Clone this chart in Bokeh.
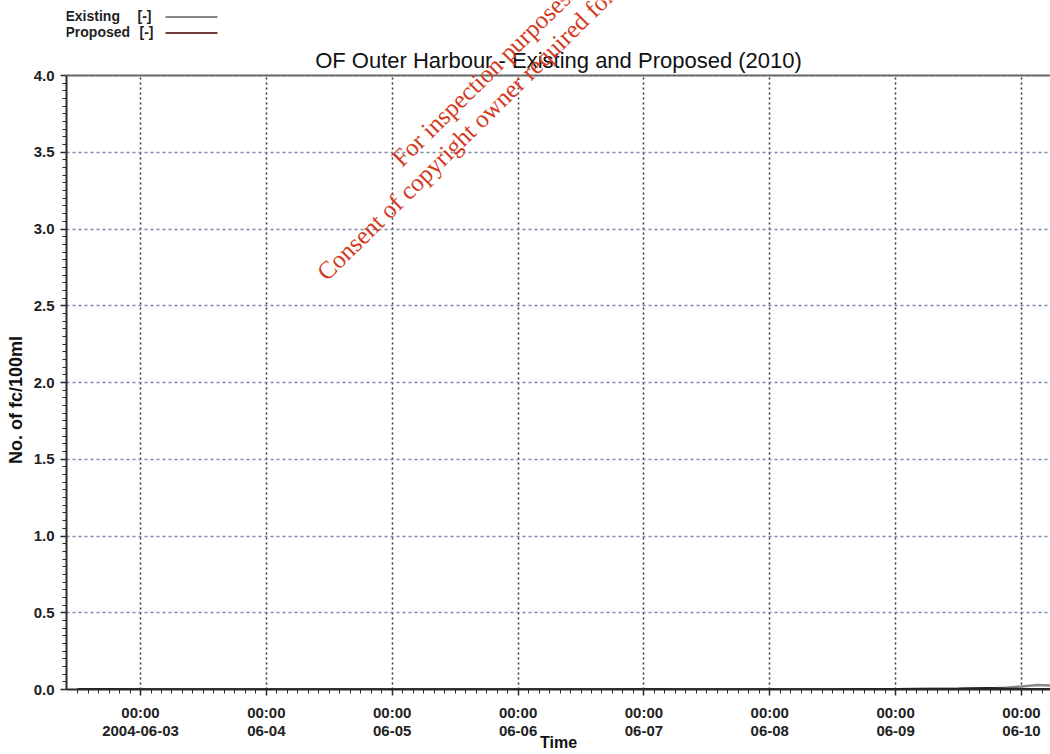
from datetime import datetime
from bokeh.plotting import figure
from bokeh.models import FixedTicker, Label, Arrow, Span, Range1d
from bokeh.embed import file_html
from bokeh.resources import INLINE

# ---------------- data ----------------
day_ticks = ["2004-06-03", "2004-06-04", "2004-06-05", "2004-06-06",
             "2004-06-07", "2004-06-08", "2004-06-09", "2004-06-10"]
day_tick_labels = ["00:00\n2004-06-03", "00:00\n06-04", "00:00\n06-05", "00:00\n06-06",
                   "00:00\n06-07", "00:00\n06-08", "00:00\n06-09", "00:00\n06-10"]
y_ticks = [0.0, 0.5, 1.0, 1.5, 2.0, 2.5, 3.0, 3.5, 4.0]

times = ["2004-06-02 12:00", "2004-06-02 18:00", "2004-06-03 00:00", "2004-06-03 06:00",
         "2004-06-03 12:00", "2004-06-03 18:00", "2004-06-04 00:00", "2004-06-04 06:00",
         "2004-06-04 12:00", "2004-06-04 18:00", "2004-06-05 00:00", "2004-06-05 06:00",
         "2004-06-05 12:00", "2004-06-05 18:00", "2004-06-06 00:00", "2004-06-06 06:00",
         "2004-06-06 12:00", "2004-06-06 18:00", "2004-06-07 00:00", "2004-06-07 06:00",
         "2004-06-07 12:00", "2004-06-07 18:00", "2004-06-08 00:00", "2004-06-08 06:00",
         "2004-06-08 12:00", "2004-06-08 18:00", "2004-06-09 00:00", "2004-06-09 06:00",
         "2004-06-09 12:00", "2004-06-09 18:00", "2004-06-09 21:00", "2004-06-10 00:00",
         "2004-06-10 03:00", "2004-06-10 06:00"]
existing = [0.002, 0.002, 0.001, 0.001, 0.001, 0.001, 0.000, 0.000,
            0.000, 0.000, 0.000, 0.000, 0.000, 0.000, 0.000, 0.000,
            0.001, 0.001, 0.002, 0.002, 0.001, 0.001, 0.001, 0.001,
            0.001, 0.001, 0.002, 0.003, 0.004, 0.006, 0.012, 0.020,
            0.030, 0.026]
proposed = [0.003, 0.003, 0.002, 0.002, 0.002, 0.002, 0.001, 0.001,
            0.001, 0.001, 0.001, 0.001, 0.001, 0.001, 0.001, 0.001,
            0.002, 0.002, 0.003, 0.002, 0.002, 0.002, 0.002, 0.002,
            0.002, 0.003, 0.004, 0.005, 0.006, 0.010, 0.006, 0.004,
            0.003, 0.003]

x_start = "2004-06-02 09:53"
x_end = "2004-06-10 05:32"

title_text = "OF Outer Harbour - Existing and Proposed (2010)"
y_label = "No. of fc/100ml"
x_label = "Time"
legend_names = ["Existing", "Proposed"]
legend_units = ["[-]", "[-]"]
legend_colors = ["#878a84", "#723a3a"]
watermark_1 = "For inspection purposes only."
watermark_2 = "Consent of copyright owner required for any other use."

# ---------------- helpers ----------------
def ms(s):
    fmt = "%Y-%m-%d %H:%M" if " " in s else "%Y-%m-%d"
    return (datetime.strptime(s, fmt) - datetime(1970, 1, 1)).total_seconds() * 1000.0

tick_ms = [ms(d) for d in day_ticks]
two_h = 2 * 3600 * 1000.0
minor = []
t = tick_ms[0] - 6 * two_h
while t < ms(x_end):
    minor.append(t)
    t += two_h

xs = [ms(s) for s in times]

FONT = "Liberation Sans"
W, H = 1050, 754
FRAME_LEFT, FRAME_BOTTOM, TOP_Y = 66, 689, 75      # page pixels
ppu = (FRAME_BOTTOM - TOP_Y) / 4.0
y_top = 4.0 + TOP_Y / ppu                          # room above 4.0 for header texts

p = figure(width=W, height=H, output_backend="svg", toolbar_location=None,
           x_range=Range1d(ms(x_start), ms(x_end)), y_range=Range1d(0, y_top),
           min_border_left=FRAME_LEFT, min_border_right=0, min_border_top=0,
           min_border_bottom=H - FRAME_BOTTOM)
p.outline_line_color = None
p.background_fill_color = "white"
p.border_fill_color = "white"

# axes
p.xaxis.ticker = FixedTicker(ticks=tick_ms, minor_ticks=minor)
p.xaxis.major_label_overrides = {tm: lab for tm, lab in zip(tick_ms, day_tick_labels)}
p.yaxis.ticker = FixedTicker(ticks=y_ticks, minor_ticks=[i * 0.05 for i in range(81)])
p.yaxis.major_label_overrides = {v: f"{v:.1f}" for v in y_ticks}
p.yaxis.bounds = (0, 4)

for ax in (p.xaxis[0], p.yaxis[0]):
    ax.major_label_text_font = FONT
    ax.major_label_text_font_style = "bold"
    ax.major_label_text_font_size = "15px"
    ax.major_label_text_color = "#222222"
    ax.axis_label_text_font = FONT
    ax.axis_label_text_font_style = "bold"
    ax.axis_label_text_font_size = "16px"
    ax.axis_label_text_color = "#111111"
    ax.axis_line_color = "#2a2a2a"
    ax.axis_line_width = 2
    ax.major_tick_line_color = "#2a2a2a"
    ax.minor_tick_line_color = "#2a2a2a"
    ax.major_tick_line_width = 1.5
    ax.major_tick_out = 6
    ax.major_tick_in = 0
    ax.minor_tick_out = 4
    ax.minor_tick_in = 0

p.xaxis.axis_label = x_label
p.xaxis.major_label_standoff = 8
p.xaxis.axis_label_standoff = -8
p.xaxis.major_label_text_line_height = 1.1
# the frame reaches the top of the canvas, so the label is padded with
# non-breaking spaces to sit centred on the 0-4 part of the axis, as in the original
p.yaxis.axis_label = y_label + "\u00a0" * 22
p.yaxis.axis_label_text_font_size = "18px"
p.yaxis.major_label_standoff = 6
p.yaxis.axis_label_standoff = 5

# grids
p.xgrid.grid_line_color = "#333333"
p.xgrid.grid_line_dash = "2 3"
p.xgrid.grid_line_width = 1.5
try:
    p.xgrid.cross_bounds = (0, 4)
except Exception:
    pass
p.ygrid.grid_line_color = "#7d8aa8"
p.ygrid.grid_line_dash = "3 3"
p.ygrid.grid_line_width = 1.3

# top border of the plotting area
p.add_layout(Span(location=4.0, dimension="width", line_color="#6a6a6a", line_width=2))

# series
p.line(xs, existing, line_color=legend_colors[0], line_width=2.5)
p.line(xs, proposed, line_color="#2a1a1a", line_width=2)

def sx(px):
    return px - FRAME_LEFT

def sy(py):
    return FRAME_BOTTOM - py

# title
p.add_layout(Label(x=sx(558), y=sy(60), x_units="screen", y_units="screen", text=title_text,
                   text_align="center", text_baseline="middle", text_font=FONT,
                   text_font_size="22px", text_color="#111111"))

# legend (top left: name, unit, then line sample)
unit_x = [137, 139]
for i, (name, unit, col) in enumerate(zip(legend_names, legend_units, legend_colors)):
    yy = sy(15 + 16 * i)
    p.add_layout(Label(x=sx(65), y=yy, x_units="screen", y_units="screen", text=name,
                       text_font=FONT, text_font_style="bold", text_font_size="14px",
                       text_baseline="middle", text_color="#222222"))
    p.add_layout(Label(x=sx(unit_x[i]), y=yy, x_units="screen", y_units="screen", text=unit,
                       text_font=FONT, text_font_style="bold", text_font_size="14px",
                       text_baseline="middle", text_color="#222222"))
    p.add_layout(Arrow(x_start=sx(165), y_start=yy - 1.5, x_end=sx(217), y_end=yy - 1.5,
                       start_units="screen", end_units="screen", end=None,
                       line_color=col, line_width=2))

# watermark
for txt, px, py in ((watermark_1, 405, 171), (watermark_2, 330, 285)):
    p.add_layout(Label(x=sx(px), y=sy(py), x_units="screen", y_units="screen", text=txt,
                       angle=44.5, angle_units="deg", text_font="Liberation Serif",
                       text_font_size="25px", text_color="#d23a22"))

open("out.html", "w").write(file_html(p, INLINE))
